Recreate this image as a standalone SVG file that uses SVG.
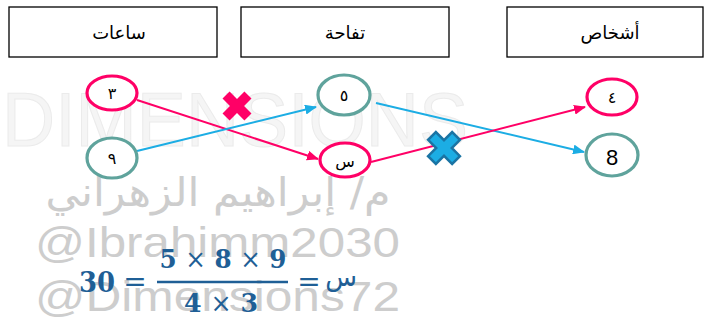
<svg xmlns="http://www.w3.org/2000/svg" width="708" height="322" viewBox="0 0 708 322">
<style>
.wm{fill:#cdcdcd;font-family:"Liberation Sans",Arial,sans-serif}
.wma{fill:#cdcdcd;font-family:"DejaVu Sans",sans-serif}
.hdr rect{fill:#fff;stroke:#000;stroke-width:1.3}
.hdr text{font-family:"DejaVu Sans","Liberation Sans",sans-serif;font-size:18px;fill:#000;text-anchor:middle}
.pink{fill:#fff;stroke:#FF0066;stroke-width:3.2}
.teal{fill:#fff;stroke:#5FA39C;stroke-width:3.2}
.lbl{font-family:"DejaVu Sans",sans-serif;font-size:16px;fill:#000;text-anchor:middle}
.cp{stroke:#FF0066;stroke-width:2;fill:none}
.cb{stroke:#1CADE4;stroke-width:2;fill:none}
.math{font-family:"DejaVu Serif",serif;font-weight:bold;fill:#1F5F96}
.mop{font-family:"DejaVu Serif",serif;font-weight:normal;fill:#1F5F96}
</style>
<defs>
<marker id="ap" viewBox="0 0 12 10" refX="11" refY="5" markerWidth="12" markerHeight="10" markerUnits="userSpaceOnUse" orient="auto"><path d="M0,0 L12,5 L0,10 Z" fill="#FF0066"/></marker>
<marker id="ab" viewBox="0 0 12 10" refX="11" refY="5" markerWidth="12" markerHeight="10" markerUnits="userSpaceOnUse" orient="auto"><path d="M0,0 L12,5 L0,10 Z" fill="#1CADE4"/></marker>
</defs>
<rect width="708" height="322" fill="#fff"/>
<g id="watermark">
<text x="2" y="146" font-family="Liberation Sans,Arial,sans-serif" font-size="76" fill="#f5f5f5" stroke="#ebebeb" stroke-width="1" textLength="466" lengthAdjust="spacingAndGlyphs">DIMENSIONS</text>
<text class="wma" x="218" y="206" font-size="40" text-anchor="middle" direction="rtl" textLength="345" lengthAdjust="spacingAndGlyphs">م/ إبراهيم الزهراني</text>
<text class="wm" x="35" y="257" font-size="42" textLength="365" lengthAdjust="spacingAndGlyphs">@Ibrahimm2030</text>
<text class="wm" x="35" y="311" font-size="42" textLength="365" lengthAdjust="spacingAndGlyphs">@Dimensions72</text>
</g>
<g id="headers" class="hdr">
<g id="h-hours"><rect x="9" y="7" width="208" height="50"/><text x="119" y="39">ساعات</text></g>
<g id="h-apple"><rect x="241" y="7" width="208" height="50"/><text x="345" y="39">تفاحة</text></g>
<g id="h-people"><rect x="507" y="7" width="196" height="50"/><text x="610" y="39">أشخاص</text></g>
</g>
<g id="connectors">
<line class="cp" x1="137" y1="100" x2="318" y2="159" marker-end="url(#ap)"/>
<line class="cb" x1="137" y1="151" x2="316" y2="107" marker-end="url(#ab)"/>
<line class="cb" x1="376" y1="103" x2="584" y2="152" marker-end="url(#ab)"/>
<line class="cp" x1="371" y1="162" x2="585" y2="107" marker-end="url(#ap)"/>
</g>
<g id="n3"><ellipse class="pink" cx="112" cy="93" rx="25" ry="17"/><text class="lbl" x="112" y="99">٣</text></g>
<g id="n9"><ellipse class="teal" cx="112" cy="158" rx="25" ry="20"/><text class="lbl" x="112" y="164">٩</text></g>
<g id="n5"><ellipse class="teal" cx="344" cy="95" rx="26" ry="20"/><text class="lbl" x="344" y="101">٥</text></g>
<g id="nx"><ellipse class="pink" cx="345" cy="160" rx="25" ry="17"/><text class="lbl" x="345" y="167">س</text></g>
<g id="n4"><ellipse class="pink" cx="612" cy="97" rx="25" ry="18"/><text class="lbl" x="612" y="103">٤</text></g>
<g id="n8"><ellipse class="teal" cx="612" cy="155" rx="26" ry="21"/><text x="612" y="165" font-family="Liberation Sans,Arial,sans-serif" font-size="22" text-anchor="middle">8</text></g>
<g id="x-pink" transform="translate(237,106) rotate(45)"><polygon points="5,-15.5 5,-5 15.5,-5 15.5,5 5,5 5,15.5 -5,15.5 -5,5 -15.5,5 -15.5,-5 -5,-5 -5,-15.5" fill="#FF0066"/></g>
<g id="x-blue" transform="translate(444,148) rotate(45)"><polygon points="5.5,-17 5.5,-5.5 17,-5.5 17,5.5 5.5,5.5 5.5,17 -5.5,17 -5.5,5.5 -17,5.5 -17,-5.5 -5.5,-5.5 -5.5,-17" fill="#1CADE4" stroke="#1A74A4" stroke-width="2.5" stroke-linejoin="miter"/></g>
<g id="formula">
<text class="math" x="79" y="292" font-size="27" textLength="36" lengthAdjust="spacingAndGlyphs">30</text>
<text class="mop" x="135" y="291" font-size="28" text-anchor="middle">=</text>
<text class="math" x="223" y="268" font-size="26" text-anchor="middle" textLength="127" lengthAdjust="spacingAndGlyphs">5 <tspan font-weight="normal">×</tspan> 8 <tspan font-weight="normal">×</tspan> 9</text>
<line x1="157" y1="282" x2="288" y2="282" stroke="#1F5F96" stroke-width="2.5"/>
<text class="math" x="221" y="312" font-size="26" text-anchor="middle" textLength="74" lengthAdjust="spacingAndGlyphs">4 <tspan font-weight="normal">×</tspan> 3</text>
<text class="mop" x="309" y="291" font-size="28" text-anchor="middle">=</text>
<text x="341" y="286" font-family="DejaVu Sans,sans-serif" font-size="26" fill="#1F5F96" text-anchor="middle">س</text>
</g>
</svg>
